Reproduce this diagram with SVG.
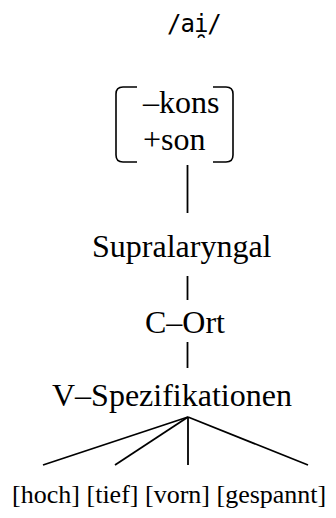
<svg xmlns="http://www.w3.org/2000/svg" width="336" height="518" viewBox="0 0 336 518">
<style>
.t{font-family:"Liberation Serif","Times New Roman",serif;font-size:32px;fill:#000}
.s{font-family:"Liberation Serif","Times New Roman",serif;font-size:26px;fill:#000}
.m{font-family:"DejaVu Sans Mono","Liberation Mono",monospace;font-size:24px;fill:#000}
.e{stroke:#000;stroke-width:1.8;fill:none}
.b{stroke:#000;stroke-width:1.6;fill:none}
</style>
<rect width="336" height="518" fill="#fff"/>
<g id="phoneme"><text class="m" x="167" y="32" letter-spacing="-1">/ai̯/</text></g>
<g id="root">
<path class="b" d="M137,87 H123 Q116,87 116,94 V155 Q116,162 123,162 H137"/>
<path class="b" d="M213,87 H226 Q233,87 233,94 V155 Q233,162 226,162 H213"/>
<text class="t" x="143" y="113">–kons</text>
<text class="t" x="143" y="150">+son</text>
</g>
<g id="supralaryngal"><text class="t" x="92" y="257">Supralaryngal</text></g>
<g id="c-ort"><text class="t" x="145" y="333">C–Ort</text></g>
<g id="v-spez"><text class="t" x="52" y="406" font-size="31.5">V–Spezifikationen</text></g>
<g id="hoch"><text class="s" x="12" y="503">[hoch]</text></g>
<g id="tief"><text class="s" x="86.5" y="503">[tief]</text></g>
<g id="vorn"><text class="s" x="145" y="503">[vorn]</text></g>
<g id="gespannt"><text class="s" x="216.5" y="503">[gespannt]</text></g>
<g id="connectors">
<line class="e" x1="187.5" y1="165" x2="187.5" y2="213"/>
<line class="e" x1="187.5" y1="276" x2="187.5" y2="300"/>
<line class="e" x1="187.5" y1="342" x2="187.5" y2="368"/>
<line class="e" x1="188" y1="417" x2="43" y2="465"/>
<line class="e" x1="188" y1="417" x2="115" y2="465"/>
<line class="e" x1="188" y1="417" x2="188" y2="465"/>
<line class="e" x1="188" y1="417" x2="308" y2="465"/>
</g>
</svg>
